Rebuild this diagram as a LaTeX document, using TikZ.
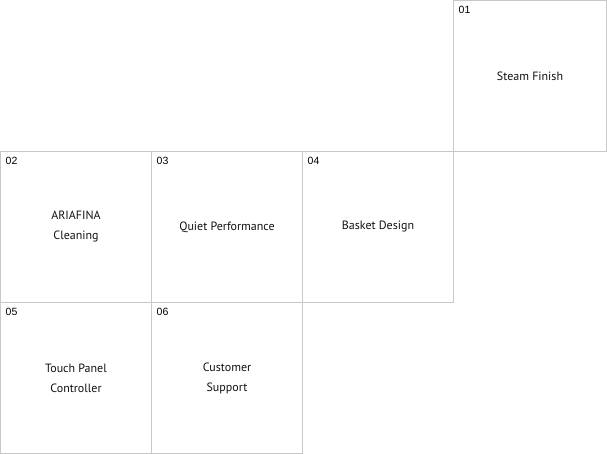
\documentclass[tikz,border=0pt]{standalone}
\usepackage{fontspec}
\setmainfont{PT Sans}
\newfontfamily\numfont{Liberation Sans}
\usetikzlibrary{positioning}
\definecolor{cellgray}{HTML}{C8C8C8}
\definecolor{inkgray}{HTML}{111111}

\begin{document}
\begin{tikzpicture}[x=1pt,y=-1pt,
  every node/.style={text=inkgray},
  cell/.style={draw=cellgray,line width=1pt,minimum width=151pt,minimum height=151pt,inner sep=0pt,outer sep=0pt,align=center,font=\fontsize{12}{20}\selectfont},
  num/.style={font=\numfont\fontsize{10.5}{12}\selectfont,text=black,anchor=north west,inner sep=0pt}]
\useasboundingbox (0,0) rectangle (607,454);

\node[cell] (c2) at (76,227) {ARIAFINA\\Cleaning};
\node[cell,right=0pt of c2] (c3) {Quiet Performance};
\node[cell,right=0pt of c3] (c4) {Basket Design};
\node[cell,minimum width=153pt,above right=0pt and 0pt of c4.north east] (c1) {Steam Finish};
\node[cell,below=0pt of c2] (c5) {Touch Panel\\Controller};
\node[cell,below=0pt of c3] (c6) {Customer\\Support};

% corner numbers
\node[num] (n1) at ([xshift=5pt,yshift=-5pt]c1.north west) {01};
\node[num] (n2) at ([xshift=5pt,yshift=-5pt]c2.north west) {02};
\node[num] (n3) at ([xshift=5pt,yshift=-5pt]c3.north west) {03};
\node[num] (n4) at ([xshift=5pt,yshift=-5pt]c4.north west) {04};
\node[num] (n5) at ([xshift=5pt,yshift=-5pt]c5.north west) {05};
\node[num] (n6) at ([xshift=5pt,yshift=-5pt]c6.north west) {06};
\end{tikzpicture}
\end{document}
